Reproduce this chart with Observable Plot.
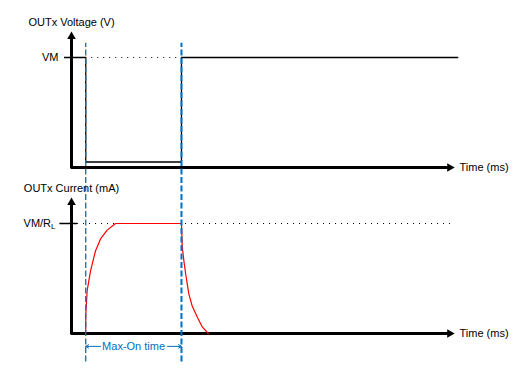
<!DOCTYPE html>
<html><head><meta charset="utf-8">
<script src="https://cdn.jsdelivr.net/npm/d3@7"></script>
<script src="https://cdn.jsdelivr.net/npm/@observablehq/plot@0.6"></script>
<style>body{margin:0;background:#fff} svg{display:block}</style>
</head><body><div id="chart"></div>
<script>
// ---- data (schematic units: time in ms-like units, levels normalised to 1) ----
const panelTitles = ["OUTx Voltage (V)", "OUTx Current (mA)"];
const levelLabels = ["VM", "VM/RL"];
const axisLabel = "Time (ms)";
const spanLabel = "Max-On time";
const tOn = 1.3;
const tOff = 10.05;
const tAxisEnd = 35;
const voltageTime  = [0, 1.3, 1.3, 10.05, 10.05, 35.3];
const voltageLevel = [1, 1, 0.05, 0.05, 1, 1];
const currentTime  = [1.3, 1.3, 1.43, 1.74, 2.19, 2.65, 3.26, 4.02, 10.05, 10.12, 10.27, 10.42, 10.72, 11.03, 11.49, 11.95, 12.5];
const currentLevel = [0, 0.165, 0.39, 0.57, 0.75, 0.86, 0.94, 1.0, 1.0, 0.79, 0.66, 0.55, 0.36, 0.25, 0.15, 0.06, 0];

// ---- layout ----
const offset = [1.509, 0]; // vertical stacking of the two panels (top, bottom)
const blue = "#0070C0";
const font = "Liberation Sans, Arial, sans-serif";

const voltage = voltageTime.map((t, i) => ({t, v: voltageLevel[i] + offset[0]}));
const current = currentTime.map((t, i) => ({t, v: currentLevel[i] + offset[1]}));
const panels = panelTitles.map((title, i) => ({title, label: levelLabels[i], off: offset[i]}));

const chart = Plot.plot({
  width: 528, height: 376,
  marginLeft: 71, marginRight: 74, marginTop: 57, marginBottom: 43,
  x: {domain: [0, tAxisEnd], axis: null},
  y: {domain: [0, 1 + offset[0]], axis: null},
  style: {fontFamily: font, fontSize: "11px", background: "white", overflow: "visible"},
  marks: [
    // dotted reference levels
    Plot.ruleY([panels[0]], {y: d => 1 + d.off, x1: tOn, x2: tOff, stroke: "black", strokeWidth: 1, strokeDasharray: "1,5"}),
    Plot.ruleY([panels[1]], {y: d => 1 + d.off, x1: 0.55, x2: tAxisEnd, stroke: "black", strokeWidth: 1, strokeDasharray: "1,5"}),
    // level ticks
    Plot.ruleY([panels[0]], {y: d => 1 + d.off, x1: -0.64, x2: 0, stroke: "black", strokeWidth: 1.5}),
    Plot.ruleY([panels[1]], {y: d => 1 + d.off, x1: -1.06, x2: 0.55, stroke: "black", strokeWidth: 1.5}),
    // axes
    Plot.ruleX(panels, {x: 0, y1: d => d.off - 0.013, y2: d => d.off + 1.19, stroke: "black", strokeWidth: 3}),
    Plot.ruleY(panels, {y: d => d.off, x1: 0, x2: tAxisEnd - 0.5, stroke: "black", strokeWidth: 3}),
    Plot.dot(panels, {x: 0, y: d => d.off + 1.235, symbol: "triangle", r: 3.2, fill: "black", stroke: null, dy: 4.8}),
    Plot.dot(panels, {x: tAxisEnd, y: d => d.off, symbol: "triangle", r: 3.2, fill: "black", stroke: null, rotate: 90, dx: -4.8}),
    // signals
    Plot.line(voltage, {x: "t", y: "v", stroke: "black", strokeWidth: 1.3}),
    Plot.line(current, {x: "t", y: "v", stroke: "#ff0000", strokeWidth: 1.2}),
    // blue guides
    Plot.ruleX([tOn], {y1: -0.26, y2: 1.13 + offset[0], stroke: blue, strokeWidth: 1.3, strokeDasharray: "6,2.5"}),
    Plot.ruleX([tOff], {y1: -0.26, y2: 1.13 + offset[0], stroke: blue, strokeWidth: 2, strokeDasharray: "6,2.5"}),
    Plot.arrow([{a: 2.65, b: tOn}, {a: 8.78, b: tOff}], {x1: "a", x2: "b", y1: -0.117, y2: -0.117, stroke: blue, strokeWidth: 1, headLength: 5, bend: 0}),
    Plot.text([spanLabel], {x: (tOn + tOff) / 2, y: -0.117, text: d => d, fill: blue, fontSize: 11}),
    // labels
    Plot.text(panels, {x: 0, y: d => d.off + 1.32, text: "title", fill: "black", fontSize: 11}),
    Plot.text(panels, {x: 0, y: d => d.off + 1, text: "label", textAnchor: "end", fill: "black", fontSize: 11}),
    Plot.text(panels, {x: tAxisEnd, y: d => d.off, text: () => axisLabel, textAnchor: "start", dx: 5, fill: "black", fontSize: 11})
  ]
});

// level label positions and subscript
d3.select(chart).selectAll("text").each(function() {
  const s = d3.select(this);
  const txt = this.textContent;
  if (txt === "VM") s.attr("dx", -13);
  if (txt === "VM/RL") {
    s.attr("dx", -16);
    s.html("VM/R<tspan font-size='8' dy='2'>L</tspan>");
  }
});

document.getElementById("chart").append(chart);
</script>
</body></html>
